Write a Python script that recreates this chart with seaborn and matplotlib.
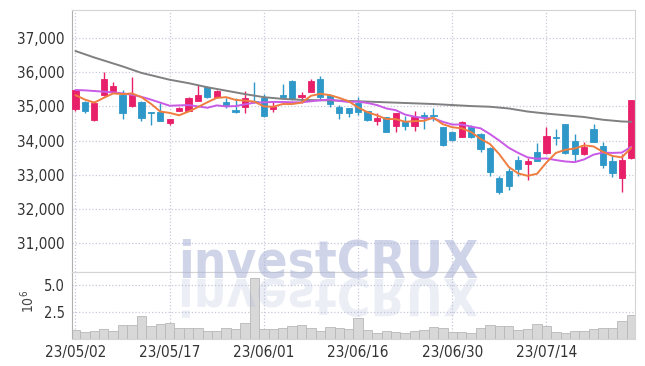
import numpy as np
import matplotlib
matplotlib.use("Agg")
import matplotlib.pyplot as plt
import matplotlib.transforms as mtransforms
import seaborn as sns
from matplotlib import font_manager
from matplotlib.font_manager import FontProperties
from matplotlib.textpath import TextPath
from matplotlib.patches import PathPatch
from matplotlib.ticker import FuncFormatter

# daily candles, 23/05/02 .. 23/07/27
opens = [34920, 35140, 34600, 35330, 35460, 35330, 35020, 35130, 34830, 34830,
         34520, 34880, 34880, 35170, 35560, 35280, 35120, 34890, 34970, 35150,
         35250, 34920, 35330, 35740, 35280, 35430, 35800, 35340, 34970, 34940,
         35100, 34860, 34580, 34680, 34440, 34550, 34440, 34750, 34750, 34400,
         34250, 34110, 34400, 34190, 33790, 32910, 33110, 33430, 33320, 33660,
         33630, 34110, 34480, 34000, 33600, 34340, 33840, 33400, 32910, 33480]
highs = [35500, 35160, 35170, 36010, 35720, 35480, 35870, 35160, 34840, 35110,
         34640, 34990, 35280, 35640, 35590, 35470, 35240, 35240, 35460, 35720,
         35360, 35170, 35650, 35760, 35430, 35790, 35890, 35360, 35040, 34960,
         35280, 34880, 34800, 34700, 34820, 34720, 34870, 34830, 34940, 34410,
         34280, 34560, 34450, 34210, 33800, 32960, 33200, 33550, 33480, 33920,
         34390, 34330, 34490, 34190, 33970, 34490, 33960, 33560, 33600, 35200]
lows = [34880, 34820, 34560, 35300, 35380, 34620, 34970, 34580, 34460, 34560,
        34460, 34860, 34860, 35150, 35250, 35260, 34950, 34820, 34800, 35100,
        34700, 34850, 35270, 35200, 35090, 35420, 35190, 34970, 34620, 34700,
        34750, 34560, 34470, 34240, 34240, 34300, 34280, 34340, 34570, 33850,
        33990, 34100, 34090, 33680, 32970, 32430, 32560, 32970, 32850, 33390,
        33620, 33870, 33620, 33410, 33580, 33950, 33190, 32930, 32510, 33470]
closes = [35480, 34870, 35110, 35800, 35600, 34820, 35330, 34660, 34800, 34580,
          34630, 34950, 35250, 35340, 35280, 35440, 35040, 34830, 35240, 35130,
          34730, 34990, 35280, 35220, 35330, 35740, 35280, 35080, 34820, 34820,
          34830, 34590, 34650, 34260, 34800, 34440, 34700, 34680, 34720, 33860,
          34010, 34540, 34110, 33750, 33080, 32510, 32680, 33170, 33400, 33400,
          34130, 34090, 33630, 33620, 33820, 33970, 33290, 33060, 33430, 35190]

# moving average lines as drawn on the chart
ma5 = [35330, 35200, 35110, 35250, 35380, 35360, 35380, 35270, 35080, 34850,
       34810, 34740, 34850, 34980, 35120, 35250, 35270, 35190, 35170, 35140,
       35000, 34990, 35070, 35070, 35110, 35310, 35370, 35330, 35250, 35150,
       34970, 34830, 34740, 34630, 34630, 34550, 34570, 34580, 34670, 34480,
       34390, 34360, 34250, 34050, 33900, 33600, 33230, 33040, 32970, 33030,
       33360, 33640, 33730, 33770, 33860, 33830, 33670, 33550, 33510, 33790]
ma10 = [35480, 35470, 35450, 35430, 35410, 35380, 35340, 35280, 35200, 35110,
        35020, 35030, 35040, 35000, 34960, 35030, 35000, 35010, 35060, 35110,
        35120, 35130, 35130, 35120, 35120, 35150, 35180, 35200, 35160, 35130,
        35140, 35100, 35040, 34940, 34890, 34760, 34700, 34660, 34650, 34550,
        34470, 34470, 34410, 34360, 34190, 34000, 33790, 33640, 33510, 33470,
        33480, 33430, 33390, 33370, 33450, 33590, 33650, 33640, 33650, 33820]
ma60_day = [0, 2, 5, 7, 10, 12, 14, 16, 18, 20, 22, 24, 26, 28, 30,
            32, 34, 36, 38, 40, 42, 44, 46, 48, 50, 52, 54, 56, 58, 59]
ma60 = [36620, 36430, 36170, 35980, 35780, 35680, 35560, 35460, 35360, 35270,
        35220, 35190, 35180, 35170, 35150, 35130, 35110, 35090, 35070, 35040,
        35010, 34990, 34940, 34850, 34790, 34740, 34690, 34610, 34560, 34550]

# volume, millions of shares
volume = [0.88, 0.67, 0.79, 0.97, 0.79, 1.34, 1.34, 2.18, 1.25, 1.43,
          1.56, 1.04, 1.04, 1.04, 0.79, 0.79, 1.04, 0.94, 1.50, 5.67,
          0.94, 0.94, 1.04, 1.25, 1.34, 1.04, 0.82, 1.19, 1.04, 0.94,
          1.96, 0.88, 0.57, 0.81, 0.72, 0.63, 0.79, 0.88, 1.13, 1.04,
          0.72, 0.72, 0.63, 1.04, 1.34, 1.25, 1.25, 0.88, 0.94, 1.43,
          1.25, 0.66, 0.57, 0.79, 0.79, 0.97, 1.04, 1.04, 1.71, 2.27]

date_labels = ["23/05/02", "23/05/17", "23/06/01", "23/06/16", "23/06/30", "23/07/14"]
price_ticks = [31000, 32000, 33000, 34000, 35000, 36000, 37000]
volume_ticks = [2.5, 5.0]

RED = "#e8206a"
BLUE = "#2e98c9"
ORANGE = "#ef7d3f"
PURPLE = "#c95ae6"
GRAY = "#808080"
GRID = "#c8c8da"
TXT = "#333333"

sns.set_style("white")

# pick a narrow face if one is installed
fonts = font_manager.fontManager.ttflist
names = {f.name for f in fonts}
narrow_stretch = "normal"
if "Liberation Sans Narrow" in names:
    narrow = "Liberation Sans Narrow"
    wm_px = 61
else:
    cond = [f for f in fonts if f.stretch in ("condensed", "semi-condensed", "extra-condensed")
            and f.name in ("DejaVu Sans", "Roboto", "Open Sans", "Noto Sans", "Inter", "Lato")]
    if cond:
        narrow = cond[0].name
        narrow_stretch = cond[0].stretch
        wm_px = 51
    else:
        narrow = "Roboto"
        wm_px = 54
plt.rcParams["font.family"] = [narrow, "DejaVu Sans"]
plt.rcParams["font.stretch"] = narrow_stretch

W, H = 645, 366
fig = plt.figure(figsize=(W / 100, H / 100), dpi=100)
left, right = 71.7, 635
ax = fig.add_axes([left / W, 1 - 272 / H, (right - left) / W, 262 / H])
axv = fig.add_axes([left / W, 1 - 338.5 / H, (right - left) / W, 66.5 / H])

n = len(closes)
idx = np.arange(n)
o = np.array(opens)
c = np.array(closes)
cols = np.where(c >= o, RED, BLUE)

# candles
ax.vlines(idx, lows, highs, colors=cols, linewidth=1.0, zorder=3)
ax.bar(idx, np.abs(c - o), bottom=np.minimum(o, c), width=0.66,
       color=cols, edgecolor=cols, linewidth=0.6, zorder=4)

sns.lineplot(x=ma60_day, y=ma60, ax=ax, color=GRAY, linewidth=1.4, zorder=5)
sns.lineplot(x=idx, y=ma10, ax=ax, color=PURPLE, linewidth=1.4, zorder=5)
sns.lineplot(x=idx, y=ma5, ax=ax, color=ORANGE, linewidth=1.4, zorder=6)

ax.set_xlim(-0.4, n - 0.6)
ax.set_ylim(30158, 37819)
ax.set_yticks(price_ticks)
ax.yaxis.set_major_formatter(FuncFormatter(lambda v, p: f"{v:,.0f}"))
ax.set_xticks(range(0, n, 10))
ax.tick_params(labelbottom=False, length=0, labelsize=11, labelcolor=TXT, pad=5)
ax.set_xlabel("")
ax.set_ylabel("")

# volume
sns.barplot(x=idx, y=volume, ax=axv, color="#d8d8d8", edgecolor="#b8b8b8",
            linewidth=0.6, width=1.0, errorbar=None, zorder=2)
axv.set_xlim(-0.4, n - 0.6)
axv.set_ylim(0.09, 6.25)
axv.set_yticks(volume_ticks)
axv.yaxis.set_major_formatter(FuncFormatter(lambda v, p: f"{v:.1f}"))
axv.set_xticks(range(0, n, 10))
axv.set_xticklabels(date_labels)
axv.tick_params(length=0, labelsize=10.5, labelcolor=TXT, pad=5)
for t in axv.get_xticklabels():
    t.set_fontsize(11)
axv.set_xlabel("")
axv.set_ylabel(r"$10^{6}$", fontsize=10, color="#444444", rotation=90)
axv.yaxis.set_label_coords(-0.062, 0.55)

for a in (ax, axv):
    a.grid(True, linestyle=":", color=GRID, linewidth=0.9)
    a.set_axisbelow(True)
    for s in a.spines.values():
        s.set_color("#d4d4d4")
        s.set_linewidth(0.8)
    a.spines["left"].set_color("#b0b0b0")

# watermark and its reflection
fig.text(178 / W, 1 - 277 / H, "investCRUX", fontsize=wm_px * 0.72,
         fontfamily=narrow, fontstretch=narrow_stretch, fontweight="bold",
         color="#a9b2d8", alpha=0.55, ha="left", va="baseline", zorder=1)
fp = FontProperties(family=narrow, weight="bold", stretch=narrow_stretch)
tp = TextPath((0, 0), "investCRUX", size=wm_px, prop=fp)
tr = mtransforms.Affine2D().scale(1 / W, -1 / H).translate(178 / W, 1 - 279 / H) + fig.transFigure
fig.add_artist(PathPatch(tp, transform=tr, facecolor="#a9b2d8", edgecolor="none",
                         alpha=0.22, zorder=1))

fig.savefig("out.png", dpi=100, facecolor="white")
